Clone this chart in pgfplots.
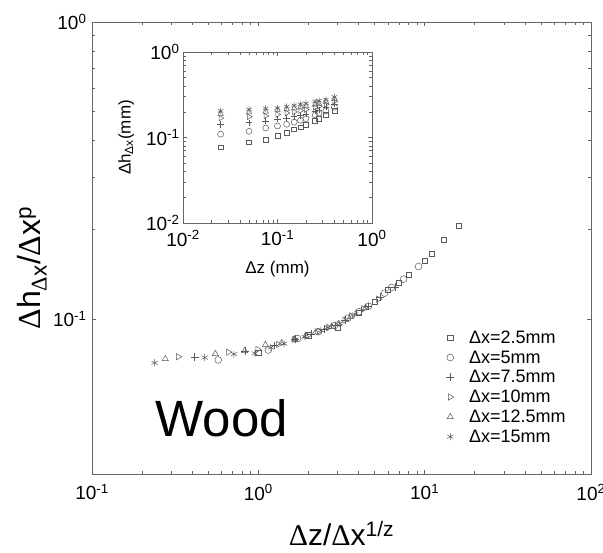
\documentclass[border=0pt]{standalone}
\usepackage{pgfplots}
\pgfplotsset{compat=1.18}
\usepackage{fontspec}
\setmainfont{Liberation Sans}
\newfontfamily\ser{Liberation Serif}
\newcommand\D{{\ser Δ}}
\definecolor{mk}{gray}{0.35}
\pgfplotsset{
  sq/.style={only marks, mark=square, mark size=2.7pt, mk, mark options={line width=0.5pt}},
  ci/.style={only marks, mark=o, mark size=3.4pt, mk, mark options={line width=0.5pt}},
  pl/.style={only marks, mark=+, mark size=3.8pt, mk, mark options={line width=0.5pt}},
  rt/.style={only marks, mark=triangle, mk, mark size=3.6pt, mark options={rotate=-90,line width=0.5pt}},
  tr/.style={only marks, mark=triangle, mk, mark size=3.6pt, mark options={line width=0.5pt}},
  st/.style={only marks, mark=asterisk, mk, mark size=3.6pt, mark options={line width=0.5pt}},
}
\begin{document}
\begin{tikzpicture}
\useasboundingbox (-92pt,-79pt) rectangle (511pt,474pt);
\begin{axis}[at={(0pt,0pt)}, anchor=south west, scale only axis,
  width=499pt, height=452pt,
  xmode=log, ymode=log, xmin=0.1, xmax=100, ymin=0.03, ymax=1,
  xtick={0.1,1,10,100},
  xticklabels={10\textsuperscript{-1},10\textsuperscript{0},10\textsuperscript{1},10\textsuperscript{2}},
  ytick={0.1,1},
  yticklabels={10\textsuperscript{-1},10\textsuperscript{0}},
  tick label style={font=\fontsize{19}{21}\selectfont},
  xticklabel style={yshift=-7pt},
  yticklabel style={xshift=-2pt},
  axis line style={black!60, line width=0.7pt},
  every tick/.style={black!60, line width=0.5pt},
  legend style={draw=none, fill=none, at={(0.704,0.324)}, anchor=north west,
    font=\fontsize{18}{20}\selectfont, row sep=3.8pt, nodes={inner sep=1pt},
    /tikz/every odd column/.append style={column sep=14pt}},
  legend cell align=left,
]
\addplot[sq] table {
1 0.0768
2 0.0879
3 0.0935
4 0.105
5 0.114
6 0.125
7 0.132
8 0.141
10 0.157
11 0.166
13 0.185
16 0.206
};
\addlegendentry{Δx=2.5mm}
\addplot[ci] table {
0.574 0.0727
1.149 0.0785
1.723 0.0858
2.297 0.0905
2.871 0.0948
3.446 0.1005
4.020 0.1057
4.594 0.1103
5.743 0.122
6.317 0.1275
7.465 0.136
9.188 0.150
};
\addlegendentry{Δx=5mm}
\addplot[pl] table {
0.4145 0.0745
0.829 0.0779
1.2435 0.0812
1.658 0.0855
2.0725 0.0887
2.487 0.0924
2.9015 0.0950
3.316 0.0990
4.145 0.1066
4.5595 0.1100
5.3885 0.1185
6.632 0.128
};
\addlegendentry{Δx=7.5mm}
\addplot[rt] table {
0.33 0.0745
0.66 0.0772
0.99 0.0789
1.32 0.0820
1.65 0.0853
1.98 0.0878
2.31 0.0908
2.64 0.0935
3.30 0.0990
3.63 0.1022
4.29 0.108
5.28 0.1165
};
\addlegendentry{Δx=10mm}
\addplot[tr] table {
0.2758 0.0733
0.5515 0.0762
0.8273 0.078
1.103 0.0817
1.379 0.0828
1.6545 0.0853
1.930 0.0875
2.206 0.0900
2.758 0.0940
3.033 0.0960
3.585 0.1015
4.412 0.109
};
\addlegendentry{Δx=12.5mm}
\addplot[st] table {
0.238 0.0711
0.476 0.074
0.714 0.076
0.952 0.0765
1.19 0.0800
1.428 0.0825
1.666 0.0850
1.904 0.0870
2.38 0.0915
2.618 0.0935
3.094 0.0965
3.808 0.1035
};
\addlegendentry{Δx=15mm}
\end{axis}
\node[anchor=base west, font=\fontsize{51}{51}\selectfont] at (60pt,37pt) {Wood};
\node[anchor=base, font=\fontsize{30}{32}\selectfont] at (249.5pt,-72pt) {\D z/\D x\textsuperscript{1/z}};
\node[rotate=90, anchor=center, font=\fontsize{32}{34}\selectfont] at (-60pt,206pt) {\D h\textsubscript{\D x}/\D x\textsuperscript{p}};
\begin{axis}[at={(91pt,251pt)}, anchor=south west, scale only axis,
  width=189pt, height=171pt,
  xmode=log, ymode=log, xmin=0.01, xmax=1, ymin=0.01, ymax=1,
  xtick={0.01,0.1,1}, ytick={0.01,0.1,1},
  xticklabels={10\textsuperscript{-2},10\textsuperscript{-1},10\textsuperscript{0}},
  yticklabels={10\textsuperscript{-2},10\textsuperscript{-1},10\textsuperscript{0}},
  tick label style={font=\fontsize{19}{21}\selectfont},
  xticklabel style={yshift=-4pt},
  axis background/.style={fill=white},
  axis line style={black!60, line width=0.7pt},
  every tick/.style={black!60, line width=0.5pt},
  xlabel={Δz (mm)}, ylabel={Δh\textsubscript{Δx}(mm)},
  label style={font=\fontsize{17}{19}\selectfont},
  xlabel style={yshift=-8pt}, ylabel style={yshift=5pt},
]
\addplot[sq, mark size=2.4pt] table {
0.025 0.0768
0.05 0.0879
0.075 0.0935
0.1 0.105
0.125 0.114
0.15 0.125
0.175 0.132
0.2 0.141
0.25 0.157
0.275 0.166
0.325 0.185
0.4 0.206
};
\addplot[ci, mark size=3pt] table {
0.025 0.1095
0.05 0.1182
0.075 0.1292
0.1 0.1363
0.125 0.1428
0.15 0.1514
0.175 0.1592
0.2 0.1661
0.25 0.1837
0.275 0.1920
0.325 0.2048
0.4 0.2259
};
\addplot[pl, mark size=3.2pt] table {
0.025 0.1424
0.05 0.1489
0.075 0.1553
0.1 0.1635
0.125 0.1696
0.15 0.1767
0.175 0.1816
0.2 0.1893
0.25 0.2038
0.275 0.2103
0.325 0.2266
0.4 0.2447
};
\addplot[rt, mark size=3.2pt] table {
0.025 0.1689
0.05 0.1751
0.075 0.1789
0.1 0.1859
0.125 0.1934
0.15 0.1991
0.175 0.2059
0.2 0.2120
0.25 0.2245
0.275 0.2317
0.325 0.2449
0.4 0.2642
};
\addplot[tr, mark size=3.2pt] table {
0.025 0.1894
0.05 0.1969
0.075 0.2016
0.1 0.2111
0.125 0.2140
0.15 0.2204
0.175 0.2261
0.2 0.2326
0.25 0.2429
0.275 0.2481
0.325 0.2623
0.4 0.2817
};
\addplot[st, mark size=3.2pt] table {
0.025 0.2049
0.05 0.2133
0.075 0.2190
0.1 0.2205
0.125 0.2305
0.15 0.2378
0.175 0.2450
0.2 0.2507
0.25 0.2637
0.275 0.2695
0.325 0.2781
0.4 0.2983
};
\end{axis}
\end{tikzpicture}
\end{document}
